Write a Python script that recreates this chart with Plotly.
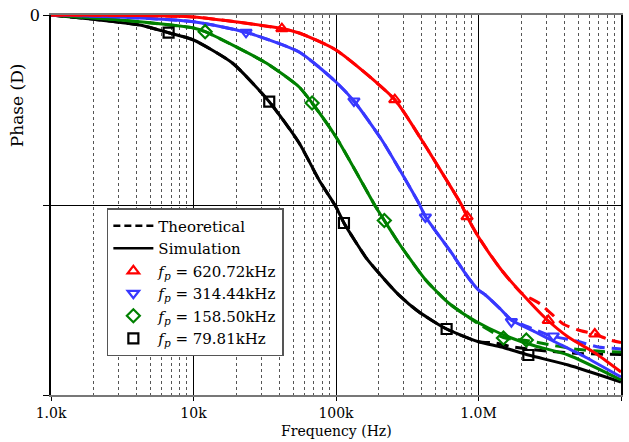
import plotly.graph_objects as go

# ---------------- data ----------------
# Simulation (solid) curves: frequency [Hz], phase [deg]
blk_sim_f = [1e3, 2.2e3, 4.19e3, 6.69e3, 1e4, 1.874e4, 3.4e4, 5.511e4, 7.605e4, 1e5, 1.137e5,
             1.613e5, 1.998e5, 2.757e5, 3.805e5, 5.973e5, 1e6, 1.448e6, 2.237e6, 4.26e6, 1e7]
blk_sim_p = [0, -1.18, -2.37, -4.19, -5.92, -11.37, -20.53, -30.32, -39.08, -45.47, -49.26,
             -57.32, -61.11, -66.3, -70.3, -74.37, -77.38, -78.63, -80.53, -82.89, -86.92]
blk_th_f = [1e3, 2.2e3, 4.19e3, 6.69e3, 1e4, 1.874e4, 3.4e4, 5.511e4, 7.605e4, 1e5, 1.137e5,
            1.613e5, 1.998e5, 2.757e5, 3.805e5, 5.973e5, 1e6, 1.315e6, 1.674e6, 2.759e6,
            4.77e6, 7.73e6, 1e7]
blk_th_p = [0, -1.18, -2.37, -4.19, -5.92, -11.37, -20.53, -30.32, -39.08, -45.47, -49.26,
            -57.32, -61.11, -66.3, -70.3, -74.37, -77.38, -77.68, -78.51, -79.46,
            -80.12, -80.34, -80.38]

grn_sim_f = [1e3, 3.04e3, 1e4, 1.207e4, 3.239e4, 5.511e4, 6.795e4, 1e5, 1.904e5, 2.184e5, 2.757e5,
             3.346e5, 4.26e5, 6.17e5, 8.51e5, 1.175e6, 1.701e6, 2.503e6, 4.26e6, 1e7]
grn_sim_p = [0, -1.18, -3.08, -3.95, -11.37, -17.05, -20.84, -28.89, -45.47, -48.67, -54.0,
             -58.02, -62.76, -68.21, -71.53, -74.13, -76.5, -78.39, -80.53, -86.45]
grn_th_f = [1e3, 3.04e3, 1e4, 1.207e4, 3.239e4, 5.511e4, 6.795e4, 1e5, 1.904e5, 2.184e5, 2.757e5,
            3.346e5, 4.26e5, 6.17e5, 8.51e5, 1e6, 1.496e6, 2.166e6, 2.848e6, 4.69e6, 7.73e6, 1e7]
grn_th_p = [0, -1.18, -3.08, -3.95, -11.37, -17.05, -20.84, -28.89, -45.47, -48.67, -54.0,
            -58.02, -62.76, -68.21, -71.53, -73.18, -76.38, -77.09, -77.8, -79.1, -79.74, -79.81]

blu_sim_f = [1e3, 3.04e3, 1e4, 2.336e4, 5.511e4, 1e5, 1.336e5, 2.097e5, 3.805e5, 4.26e5, 6.475e5,
             8.51e5, 1e6, 1.119e6, 1.448e6, 1.701e6, 2.503e6, 3.455e6, 5.6e6, 1e7]
blu_sim_p = [0, -0.47, -1.59, -4.10, -8.76, -15.87, -20.37, -29.6, -44.53, -47.84, -56.36,
             -62.29, -65.13, -66.32, -69.87, -72.24, -75.08, -77.45, -81.0, -85.74]
blu_th_f = [1e3, 3.04e3, 1e4, 2.336e4, 5.511e4, 1e5, 1.336e5, 2.097e5, 3.805e5, 4.26e5, 6.475e5,
            8.51e5, 1e6, 1.119e6, 1.448e6, 1.701e6, 2.237e6, 3.239e6, 4.845e6, 6.906e6, 1e7]
blu_th_p = [0, -0.47, -1.59, -4.10, -8.76, -15.87, -20.37, -29.6, -44.53, -47.84, -56.36,
            -62.29, -65.13, -66.32, -69.87, -72.24, -73.89, -76.03, -77.2, -78.63, -79.1]

red_sim_f = [1e3, 1e4, 4.192e4, 5.511e4, 1e5, 2.586e5, 3.994e5, 4.692e5, 7.604e5, 8.313e5, 1e6,
             1.448e6, 2.0e6, 2.941e6, 4.26e6, 6.58e6, 1e7]
red_sim_p = [0, -0.47, -3.24, -4.26, -8.29, -20.06, -29.6, -33.39, -44.99, -47.76, -52.57,
             -60.39, -65.84, -71.76, -76.26, -80.05, -84.55]
red_th_f = [1e3, 1e4, 4.192e4, 5.511e4, 1e5, 2.586e5, 3.994e5, 4.692e5, 7.604e5, 8.313e5, 1e6,
            1.448e6, 2.0e6, 2.715e6, 3.93e6, 5.0e6, 6.475e6, 8.38e6, 1e7]
red_th_p = [0, -0.47, -3.24, -4.26, -8.29, -20.06, -29.6, -33.39, -44.99, -47.76, -52.57,
            -60.39, -65.84, -68.44, -73.18, -74.6, -75.55, -76.97, -77.56]

# marker points
blk_mk_f = [6.687e3, 3.4e4, 1.137e5, 5.973e5, 2.237e6]
blk_mk_p = [-4.19, -20.53, -49.26, -74.37, -80.53]
grn_mk_f = [1.207e4, 6.795e4, 2.184e5, 1.496e6, 2.166e6]
grn_mk_p = [-3.95, -20.84, -48.67, -76.5, -76.97]
blu_mk_f = [2.336e4, 1.336e5, 4.24e5, 1.701e6, 3.346e6]
blu_mk_p = [-4.10, -20.37, -47.84, -72.63, -76.03]
red_mk_f = [4.171e4, 2.586e5, 8.313e5, 3.087e6, 6.548e6]
red_mk_p = [-3.24, -20.06, -47.76, -72.35, -75.55]

series_labels = ["<i>f<sub>p</sub></i> = 620.72kHz", "<i>f<sub>p</sub></i> = 314.44kHz",
                 "<i>f<sub>p</sub></i> = 158.50kHz", "<i>f<sub>p</sub></i> = 79.81kHz"]
x_tick_vals = [1e3, 1e4, 1e5, 1e6, 1e7]
x_tick_text = ["1.0k", "10k", "100k", "1.0M", "10M"]

# ---------------- figure ----------------
FONT = "DejaVu Serif"
RED, BLUE, GREEN, BLACK = "#ff0000", "#3838ff", "#008000", "#000000"
DASH = "12px,7px"

fig = go.Figure()

series = [
    (red_sim_f, red_sim_p, red_th_f, red_th_p, red_mk_f, red_mk_p, RED, "triangle-up-open", series_labels[0]),
    (blu_sim_f, blu_sim_p, blu_th_f, blu_th_p, blu_mk_f, blu_mk_p, BLUE, "triangle-down-open", series_labels[1]),
    (grn_sim_f, grn_sim_p, grn_th_f, grn_th_p, grn_mk_f, grn_mk_p, GREEN, "diamond-open", series_labels[2]),
    (blk_sim_f, blk_sim_p, blk_th_f, blk_th_p, blk_mk_f, blk_mk_p, BLACK, "square-open", series_labels[3]),
]

fig.add_trace(go.Scatter(x=[None], y=[None], mode="lines", name="Theoretical",
                         line=dict(color=BLACK, width=2.5, dash="7px,4px")))
fig.add_trace(go.Scatter(x=[None], y=[None], mode="lines", name="Simulation",
                         line=dict(color=BLACK, width=2.5)))

for sf, sp, tf, tp, mf, mp, col, sym, lab in reversed(series):
    fig.add_trace(go.Scatter(x=tf, y=tp, mode="lines", showlegend=False,
                             line=dict(color=col, width=3, dash=DASH, shape="spline", smoothing=0.6)))
    fig.add_trace(go.Scatter(x=sf, y=sp, mode="lines", showlegend=False,
                             line=dict(color=col, width=3, shape="spline", smoothing=0.6)))

for sf, sp, tf, tp, mf, mp, col, sym, lab in series:
    fig.add_trace(go.Scatter(x=mf, y=mp, mode="markers", name=lab,
                             marker=dict(symbol=sym, size=10, color=col,
                                         line=dict(color=col, width=2.2))))

minor_vals = [m * 10 ** e for e in range(3, 7) for m in range(2, 10)]

fig.update_layout(
    width=629, height=442,
    margin=dict(l=51, r=6, t=15, b=47),
    paper_bgcolor="white", plot_bgcolor="white",
    font=dict(family=FONT, size=15, color="black"),
    showlegend=True,
    legend=dict(x=0.098, y=0.492, xanchor="left", yanchor="top",
                bgcolor="white", bordercolor="#555555", borderwidth=1.5,
                font=dict(family=FONT, size=15), tracegroupgap=0,
                itemwidth=40),
    xaxis=dict(type="log", range=[3, 7], tickmode="array",
               tickvals=x_tick_vals, ticktext=x_tick_text,
               ticks="outside", ticklen=4, tickcolor="black",
               showgrid=True, gridcolor="black", gridwidth=1,
               showline=True, linecolor="#777777", linewidth=2, mirror=True,
               zeroline=False,
               tickfont=dict(family=FONT, size=14),
               minor=dict(tickvals=minor_vals, showgrid=True, gridcolor="#555555",
                          griddash="dot", gridwidth=1, ticks="")),
    yaxis=dict(range=[-90, 0], tickmode="array", tickvals=[0, -45, -90],
               ticktext=["0", "", ""], ticks="outside", ticklen=6, tickcolor="black",
               showgrid=True, gridcolor="black", gridwidth=1,
               showline=True, linecolor="black", linewidth=1.5, mirror=True,
               zeroline=False, tickfont=dict(family=FONT, size=16)),
    annotations=[
        dict(text="Phase (D)", textangle=-90, x=-0.0594, y=0.763, xref="paper", yref="paper",
             xanchor="center", yanchor="middle", showarrow=False,
             font=dict(family=FONT, size=17)),
        dict(text="Frequency (Hz)", x=0.5, y=-0.0955, xref="paper", yref="paper",
             xanchor="center", yanchor="middle", showarrow=False,
             font=dict(family=FONT, size=14)),
    ],
)

fig.write_html("out.html")
